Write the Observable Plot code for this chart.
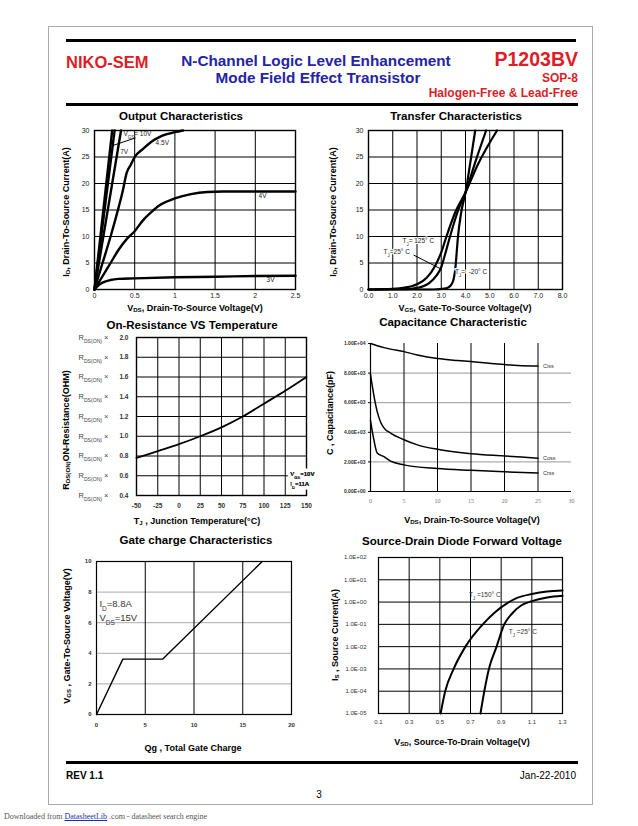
<!DOCTYPE html>
<html><head><meta charset="utf-8">
<script src="https://cdn.jsdelivr.net/npm/d3@7"></script>
<script src="https://cdn.jsdelivr.net/npm/@observablehq/plot@0.6"></script>
<style>
body{margin:0;background:#fff;}
#page{position:relative;width:638px;height:826px;overflow:hidden;font-family:"Liberation Sans",Arial,Helvetica,sans-serif;background:#fff;}
.abs{position:absolute;white-space:nowrap;line-height:1;}
.c{transform:translate(-50%,-50%);}
.l{transform:translate(0,-50%);}
.r{transform:translate(-100%,-50%);}
.rot{transform:translate(-50%,-50%) rotate(-90deg);}
.t{font-weight:bold;font-size:11.5px;}
.ax{font-weight:bold;font-size:9px;}
sub{font-size:68%;vertical-align:-0.25em;line-height:0;}
.line{position:absolute;background:#000;}
</style></head>
<body><div id="page"></div>
<script>
// ---------------- DATA ----------------
// Output characteristics: ID (A) vs VDS (V) per VGS
const outTicksX = [0, 0.5, 1, 1.5, 2, 2.5];
const outTicksY = [0, 5, 10, 15, 20, 25, 30];
const out10V = [[0,0],[0.22,30]];
const out10Vb = [[0,0],[0.25,30]];
const out7V = [[0,0],[0.33,30]];
const out45V = [[0,0],[0.1,5],[0.2,10],[0.3,15.5],[0.35,18.5],[0.4,22],[0.45,23.5],[0.5,25],[0.6,26.5],[0.7,27.8],[0.8,28.7],[0.9,29.3],[1.0,29.7],[1.1,30]];
const out4V = [[0,0],[0.1,2.5],[0.2,5],[0.3,7.5],[0.4,9.5],[0.5,11],[0.6,13],[0.7,14.5],[0.8,15.8],[0.9,16.6],[1.0,17.2],[1.2,18],[1.4,18.4],[1.6,18.5],[2.0,18.5],[2.5,18.5]];
const out3V = [[0,0],[0.05,0.8],[0.1,1.3],[0.2,1.8],[0.3,2.0],[0.5,2.1],[1.0,2.3],[1.5,2.4],[2.0,2.55],[2.5,2.6]];
const outNotes = [
  {label:"V_{GS}= 10V", x:0.36, y:29.3},
  {label:"4.5V", x:0.76, y:27.6},
  {label:"7V", x:0.32, y:26},
  {label:"4V", x:2.04, y:17.7},
  {label:"3V", x:2.14, y:1.9}
];
const outLeaders = [{x1:0.235, y1:27.2, x2:0.51, y2:28.6}];

// Transfer characteristics: ID (A) vs VGS (V) per TJ
const trTicksX = [0,1,2,3,4,5,6,7,8];
const trTicksY = [0,5,10,15,20,25,30];
const tr125 = [[0,0],[1.0,0.1],[1.5,0.35],[2.0,1.0],[2.4,2.2],[2.75,4.5],[3.0,7],[3.2,9.8],[3.6,14.8],[4.0,18.3],[4.5,23.5],[5.3,30]];
const tr25 = [[0,0],[1.5,0.05],[2.0,0.3],[2.5,1.2],[2.8,2.6],[3.0,4.2],[3.15,6.5],[3.35,9.8],[3.7,15],[4.0,18.3],[4.4,24],[4.85,30]];
const trM20 = [[0,0],[2.7,0],[3.2,0.2],[3.4,0.8],[3.5,1.8],[3.57,3.5],[3.62,6],[3.68,9.5],[3.82,14.5],[4.0,18.3],[4.2,24],[4.4,30]];
const trNotes = [
  {label:"T_{J}= 125° C", x:1.4, y:9.2},
  {label:"T_{J}=25° C", x:0.62, y:7.1},
  {label:"T_{J}=  -20° C", x:3.57, y:3.3}
];
const trLeaders = [{x1:1.86, y1:6.5, x2:3.02, y2:3.8}];

// On-resistance (normalized) vs junction temperature
const orTicksX = [-50,-25,0,25,50,75,100,125,150];
const orTicksY = [0.4,0.6,0.8,1.0,1.2,1.4,1.6,1.8,2.0];
const orTemp = [-50,-25,0,25,50,75,100,125,150];
const orRds = [0.78,0.85,0.92,1.0,1.09,1.2,1.33,1.46,1.6];
const orNotes = [
  {label:"V_{GS}=10V", x:131, y:0.62},
  {label:"I_{D}=11A", x:131, y:0.52}
];

// Capacitance (pF) vs VDS (V)
const capTicksX = [0,5,10,15,20,25,30];
const capTicksY = [0,2000,4000,6000,8000,10000];
const capCiss = [[0,10000],[1,9850],[2,9720],[3,9620],[5,9450],[7,9220],[10,8980],[13,8850],[15,8780],[18,8650],[20,8580],[22,8520],[25,8480]];
const capCoss = [[0,7900],[0.5,6500],[1,5400],[1.5,4700],[2,4300],[3,3950],[5,3500],[7,3150],[10,2850],[13,2650],[15,2550],[20,2400],[25,2250]];
const capCrss = [[0,4800],[0.5,3500],[1,2600],[2,2350],[3,2050],[5,1800],[10,1550],[15,1430],[20,1330],[25,1250]];

// Gate charge: VGS (V) vs Qg (nC)
const gcTicksX = [0,5,10,15,20];
const gcTicksY = [0,2,4,6,8,10];
const gcQg = [0,2.7,6.8,17];
const gcVgs = [0,3.62,3.62,10];
const gcNotes = [
  {label:"I_{D}=8.8A", x:0.3, y:7.25},
  {label:"V_{DS}=15V", x:0.3, y:6.34}
];

// Source-drain diode forward voltage: IS (A) vs VSD (V)
const sdTicksX = [0.1,0.3,0.5,0.7,0.9,1.1,1.3];
const sdTicksY = [1e-5,1e-4,1e-3,1e-2,1e-1,1,10,100];
const sd150 = [[0.505,1e-5],[0.535,1e-4],[0.59,1e-3],[0.667,1e-2],[0.78,0.1],[0.86,0.35],[0.94,0.9],[1.0,1.5],[1.1,2.3],[1.2,3.0],[1.3,3.3]];
const sd25 = [[0.765,1e-5],[0.79,1e-4],[0.82,1e-3],[0.87,1e-2],[0.92,0.1],[0.97,0.3],[1.03,0.7],[1.1,1.1],[1.2,1.6],[1.3,1.9]];
const sdNotes = [
  {label:"T_{J} =150° C", x:0.69, y:2},
  {label:"T_{J} =25° C", x:0.95, y:0.044}
];

// ---------------- HELPERS ----------------
const page = document.getElementById("page");
const FONT = '"Liberation Sans", Arial, Helvetica, sans-serif';
const NS = "http://www.w3.org/2000/svg";
function rows(name, pairs){ return pairs.map(([x,y]) => ({series:name, x, y})); }
function html(s){ return s.replace(/_\{([^}]*)\}/g, '<sub>$1</sub>'); }
function put(cls, text, x, y, extra){
  const d = document.createElement("div");
  d.className = "abs " + cls; d.style.left = x + "px"; d.style.top = y + "px";
  d.innerHTML = html(text); if (extra) Object.assign(d.style, extra);
  page.appendChild(d); return d;
}
function hline(x, y, w, h, color){
  const d = document.createElement("div"); d.className = "line";
  Object.assign(d.style, {left:x+"px", top:y+"px", width:w+"px", height:h+"px", background:color||"#000"});
  page.appendChild(d);
}
function conv(el){
  const s = el.textContent; if (!s.includes("_{")) return;
  el.textContent = "";
  const re = /_\{([^}]*)\}/g; let last = 0, m;
  while ((m = re.exec(s))) {
    if (m.index > last) { const a = document.createElementNS(NS, "tspan"); a.textContent = s.slice(last, m.index); el.appendChild(a); }
    const b = document.createElementNS(NS, "tspan"); b.textContent = m[1];
    b.setAttribute("font-size", "68%"); b.setAttribute("baseline-shift", "sub"); el.appendChild(b);
    last = re.lastIndex;
  }
  if (last < s.length) { const a = document.createElementNS(NS, "tspan"); a.textContent = s.slice(last); el.appendChild(a); }
}
function subs(svg){
  svg.querySelectorAll("text").forEach(t => {
    const ts = t.querySelectorAll("tspan");
    if (ts.length) ts.forEach(conv); else conv(t);
  });
}
function mount(svg, left, top){
  const d = document.createElement("div");
  Object.assign(d.style, {position:"absolute", left:left+"px", top:top+"px"});
  d.appendChild(svg); page.appendChild(d); subs(svg);
}
function style(fs){ return {background:"transparent", fontFamily:FONT, fontSize:fs+"px", color:"black", overflow:"visible", maxWidth:"none"}; }
const f1 = d3.format(".1f");
const plain = d => String(d);
function capFmt(d){ if (d === 0) return "0.00E+00"; const e = Math.floor(Math.log10(d)); return (d/10**e).toFixed(2) + "E+" + String(e).padStart(2,"0"); }
function sdFmt(d){ const e = Math.round(Math.log10(d)); return "1.0E" + (e < 0 ? "-" : "+") + String(Math.abs(e)).padStart(2,"0"); }

// ---------------- PAGE FRAME / HEADER / FOOTER ----------------
const box = document.createElement("div");
Object.assign(box.style, {position:"absolute", left:"48px", top:"26px", width:"545px", height:"779px", border:"1px solid #aaa", boxSizing:"border-box"});
page.appendChild(box);
hline(66, 39, 510, 2.5);
put("l", "NIKO-SEM", 66, 62, {fontWeight:"bold", fontSize:"16.5px", color:"#dc1e28"});
put("c", "N-Channel Logic Level Enhancement", 316, 61, {fontWeight:"bold", fontSize:"15.3px", color:"#2424a4"});
put("c", "Mode Field Effect Transistor", 318, 78, {fontWeight:"bold", fontSize:"15.3px", color:"#2424a4"});
put("r", "P1203BV", 578, 60, {fontWeight:"bold", fontSize:"19.5px", color:"#dc1e28"});
put("r", "SOP-8", 578, 78, {fontWeight:"bold", fontSize:"12px", color:"#dc1e28"});
put("r", "Halogen-Free &amp; Lead-Free", 578, 93, {fontWeight:"bold", fontSize:"12px", color:"#dc1e28"});
hline(66, 103, 512, 2.5);
hline(66, 761, 512, 2.5);
put("l", "REV 1.1", 66, 776, {fontWeight:"bold", fontSize:"10px"});
put("r", "Jan-22-2010", 576, 776, {fontSize:"10px"});
put("c", "3", 319, 795, {fontSize:"10px"});
put("l", 'Downloaded from <span style="color:#1a2db0;text-decoration:underline">DatasheetLib</span> .com - datasheet search engine', 4, 817, {fontFamily:'"Liberation Serif","Times New Roman",serif', fontSize:"8px", color:"#555"});

// ---------------- TITLES & AXIS LABELS ----------------
put("c t", "Output Characteristics", 181, 117);
put("c t", "Transfer Characteristics", 456, 117);
put("c t", "On-Resistance VS Temperature", 192, 326);
put("c t", "Capacitance Characteristic", 453, 323);
put("c t", "Gate charge Characteristics", 196, 541);
put("c t", "Source-Drain Diode Forward Voltage", 462, 542);
put("c ax", "V_{DS}, Drain-To-Source Voltage(V)", 195, 308);
put("c ax", "V_{GS}, Gate-To-Source Voltage(V)", 465, 308);
put("c ax", "T_{J} , Junction Temperature(°C)", 197, 521);
put("c ax", "V_{DS}, Drain-To-Source Voltage(V)", 472, 520);
put("c ax", "Qg , Total Gate Charge", 193, 748);
put("c ax", "V_{SD}, Source-To-Drain Voltage(V)", 462, 742);
put("rot ax", "I_{D}, Drain-To-Source Current(A)", 66, 212);
put("rot ax", "I_{D}, Drain-To-Source Current(A)", 333, 212);
put("rot ax", "R_{DS(ON)}ON-Resistance(OHM)", 66, 430);
put("rot ax", "C , Capacitance(pF)", 330, 413);
put("rot ax", "V_{GS} , Gate-To-Source Voltage(V)", 67, 636);
put("rot ax", "I_{S} , Source Current(A)", 335, 635);

// ---------------- CHART 1: OUTPUT ----------------
const outData = [...rows("10V", out10V), ...rows("10Vb", out10Vb), ...rows("7V", out7V), ...rows("4.5V", out45V), ...rows("4V", out4V), ...rows("3V", out3V)];
mount(Plot.plot({
  width:245, height:195, marginLeft:34, marginRight:10, marginTop:8, marginBottom:28,
  style: style(7),
  x:{domain:[0,2.5]}, y:{domain:[0,30]},
  marks:[
    Plot.gridX(outTicksX, {stroke:"black", strokeOpacity:1}),
    Plot.gridY(outTicksY, {stroke:"black", strokeOpacity:1}),
    Plot.frame({stroke:"black", strokeWidth:1.4}),
    Plot.axisX(outTicksX, {tickSize:0, tickPadding:4, label:null, tickFormat:plain, fill:"#222"}),
    Plot.axisY(outTicksY, {tickSize:0, tickPadding:5, label:null, tickFormat:plain, fill:"#222"}),
    Plot.line(outData, {x:"x", y:"y", z:"series", stroke:"black", strokeWidth:2.4, curve:"monotone-x"}),
    Plot.link(outLeaders, {x1:"x1", y1:"y1", x2:"x2", y2:"y2", stroke:"black", strokeWidth:1}),
    Plot.text(outNotes, {x:"x", y:"y", text:"label", textAnchor:"start", fontSize:6.5, fill:"#222"})
  ]
}), 60, 122);

// ---------------- CHART 2: TRANSFER ----------------
const trData = [...rows("125", tr125), ...rows("25", tr25), ...rows("-20", trM20)];
mount(Plot.plot({
  width:245, height:195, marginLeft:43, marginRight:8, marginTop:8, marginBottom:28,
  style: style(7),
  x:{domain:[0,8]}, y:{domain:[0,30]},
  marks:[
    Plot.gridX(trTicksX, {stroke:"black", strokeOpacity:1}),
    Plot.gridY(trTicksY, {stroke:"black", strokeOpacity:1}),
    Plot.frame({stroke:"black", strokeWidth:1.4}),
    Plot.axisX(trTicksX, {tickSize:0, tickPadding:4, label:null, tickFormat:f1, fill:"#222"}),
    Plot.axisY(trTicksY, {tickSize:0, tickPadding:5, label:null, tickFormat:plain, fill:"#222"}),
    Plot.line(trData, {x:"x", y:"y", z:"series", stroke:"black", strokeWidth:2.2, curve:"monotone-x"}),
    Plot.link(trLeaders, {x1:"x1", y1:"y1", x2:"x2", y2:"y2", stroke:"black", strokeWidth:1}),
    Plot.text(trNotes, {x:"x", y:"y", text:"label", textAnchor:"start", fontSize:6.5, fill:"#222", stroke:"white", strokeWidth:2})
  ]
}), 325, 122);

// ---------------- CHART 3: ON-RESISTANCE ----------------
const orData = orTemp.map((t, i) => ({t, r: orRds[i]}));
mount(Plot.plot({
  width:250, height:200, marginLeft:76, marginRight:4, marginTop:9, marginBottom:33,
  style: style(6.5),
  x:{domain:[-50,150]}, y:{domain:[0.4,2.0]},
  marks:[
    Plot.gridX(orTicksX, {stroke:"black", strokeOpacity:1}),
    Plot.gridY(orTicksY, {stroke:"black", strokeOpacity:1}),
    Plot.frame({stroke:"black", strokeWidth:1.4}),
    Plot.text(orNotes, {x:"x", y:"y", text:"label", textAnchor:"start", fontSize:6, fontWeight:"bold", fill:"#222", stroke:"white", strokeWidth:7}),
    Plot.text(orNotes, {x:"x", y:"y", text:"label", textAnchor:"start", fontSize:6, fontWeight:"bold", fill:"#222"}),
    Plot.axisX(orTicksX, {tickSize:0, tickPadding:8, label:null, tickFormat:plain, fontWeight:"bold", fill:"#333"}),
    Plot.axisY(orTicksY, {tickSize:0, tickPadding:8, label:null, tickFormat:f1, fontWeight:"bold", fill:"#333"}),
    Plot.axisY(orTicksY, {tickSize:0, tickPadding:28, label:null, tickFormat:() => "R_{DS(ON)} ×", fill:"#444", fontSize:7.5}),
    Plot.line(orData, {x:"t", y:"r", stroke:"black", strokeWidth:1.8, curve:"monotone-x"})
  ]
}), 60, 328);

// ---------------- CHART 4: CAPACITANCE ----------------
const capData = [...rows("Ciss", capCiss), ...rows("Coss", capCoss), ...rows("Crss", capCrss)];
mount(Plot.plot({
  width:255, height:180, marginLeft:45, marginRight:9, marginTop:10, marginBottom:22,
  style: style(5),
  x:{domain:[0,30]}, y:{domain:[0,10000]},
  marks:[
    Plot.gridY(capTicksY.filter(d => d > 0 && d < 10000), {stroke:"#999", strokeOpacity:1}),
    Plot.gridX(capTicksX.filter(d => d > 0 && d < 30), {stroke:"black", strokeOpacity:1}),
    Plot.ruleX([0], {stroke:"black", strokeWidth:1.2}),
    Plot.ruleY([0], {stroke:"black", strokeWidth:1.2}),
    Plot.axisX(capTicksX, {tickSize:0, tickPadding:7, label:null, tickFormat:plain, fontFamily:'"Liberation Serif",serif', fontSize:6, fill:"#777"}),
    Plot.axisY(capTicksY, {tickSize:2, tickPadding:3, label:null, tickFormat:capFmt, fontWeight:"bold", fill:"#333"}),
    Plot.line(capData, {x:"x", y:"y", z:"series", stroke:"black", strokeWidth:1.5, curve:"monotone-x"}),
    Plot.text(capData, Plot.selectLast({x:"x", y:"y", z:"series", text:"series", textAnchor:"start", dx:5, fontSize:5.5, fill:"#333"}))
  ]
}), 325, 333);

// ---------------- CHART 5: GATE CHARGE ----------------
const gcData = gcQg.map((q, i) => ({q, v: gcVgs[i]}));
mount(Plot.plot({
  width:245, height:185, marginLeft:36, marginRight:14, marginTop:8, marginBottom:24,
  style: style(6),
  x:{domain:[0,20]}, y:{domain:[0,10]},
  marks:[
    Plot.gridY(gcTicksY.filter(d => d > 0 && d < 10), {stroke:"#aaa", strokeOpacity:1}),
    Plot.gridX(gcTicksX.filter(d => d > 0 && d < 20), {stroke:"black", strokeOpacity:1}),
    Plot.frame({stroke:"black", strokeWidth:1.2}),
    Plot.axisX(gcTicksX, {tickSize:0, tickPadding:8, label:null, tickFormat:plain, fontWeight:"bold", fill:"#333"}),
    Plot.axisY(gcTicksY, {tickSize:0, tickPadding:5, label:null, tickFormat:plain, fontWeight:"bold", fill:"#333"}),
    Plot.line(gcData, {x:"q", y:"v", stroke:"black", strokeWidth:1.4}),
    Plot.text(gcNotes, {x:"x", y:"y", text:"label", textAnchor:"start", fontSize:9.5, fill:"#333"})
  ]
}), 60, 553);

// ---------------- CHART 6: SOURCE-DRAIN ----------------
const sdData = [...rows("150", sd150), ...rows("25", sd25)];
mount(Plot.plot({
  width:245, height:185, marginLeft:53, marginRight:8, marginTop:7, marginBottom:22,
  style: style(6),
  x:{domain:[0.1,1.3]}, y:{type:"log", domain:[1e-5,100]},
  marks:[
    Plot.gridX(sdTicksX, {stroke:"black", strokeOpacity:1}),
    Plot.gridY(sdTicksY, {stroke:"black", strokeOpacity:1}),
    Plot.frame({stroke:"black", strokeWidth:1.2}),
    Plot.axisX(sdTicksX, {tickSize:0, tickPadding:6, label:null, tickFormat:f1, fill:"#333"}),
    Plot.axisY(sdTicksY, {tickSize:0, tickPadding:12, label:null, tickFormat:sdFmt, fill:"#333"}),
    Plot.line(sdData, {x:"x", y:"y", z:"series", stroke:"black", strokeWidth:2, curve:"monotone-x"}),
    Plot.text(sdNotes, {x:"x", y:"y", text:"label", textAnchor:"start", fontSize:6.5, fill:"#333"})
  ]
}), 325, 550);
</script>
</body></html>
